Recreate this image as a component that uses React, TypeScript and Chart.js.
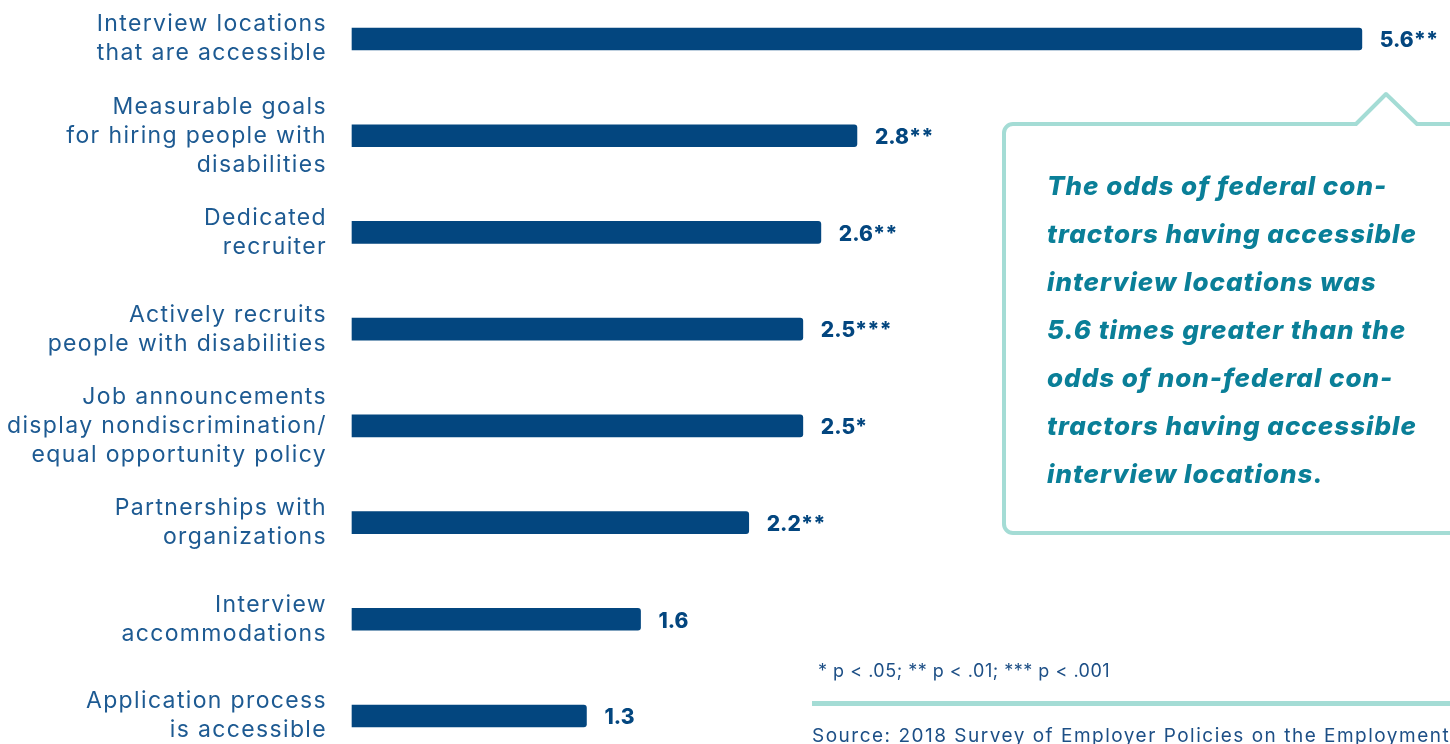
import React, { useEffect, useRef } from "react";
import { Chart, registerables } from "chart.js";

Chart.register(...registerables);

const categories: string[][] = [
  ["Interview locations", "that are accessible"],
  ["Measurable goals", "for hiring people with", "disabilities"],
  ["Dedicated", "recruiter"],
  ["Actively recruits", "people with disabilities"],
  ["Job announcements", "display nondiscrimination/", "equal opportunity policy"],
  ["Partnerships with", "organizations"],
  ["Interview", "accommodations"],
  ["Application process", "is accessible"],
];
const oddsRatios: number[] = [5.6, 2.8, 2.6, 2.5, 2.5, 2.2, 1.6, 1.3];
const valueLabels: string[] = ["5.6**", "2.8**", "2.6**", "2.5***", "2.5*", "2.2**", "1.6", "1.3"];
const calloutLines: string[] = [
  "The odds of federal con-",
  "tractors having accessible",
  "interview locations was",
  "5.6 times greater than the",
  "odds of non-federal con-",
  "tractors having accessible",
  "interview locations.",
];
const footnote = "* p < .05; ** p < .01; *** p < .001";
const sourceText = "Source: 2018 Survey of Employer Policies on the Employment of People with Disabilities";

const FONT = "Inter, 'Open Sans', sans-serif";
const BAR = "#03467f";
const LABEL = "#1d5a92";
const TEAL = "#a4dcd5";
const TEAL_TEXT = "#0a7f98";

const spacingPlugin = {
  id: "spacing",
  beforeDraw(chart: any) {
    (chart.ctx as any).letterSpacing = "1.35px";
  },
};

const overlayPlugin = {
  id: "overlay",
  afterDraw(chart: any) {
    const ctx = chart.ctx as any;
    const meta = chart.getDatasetMeta(0);
    ctx.save();
    // value labels
    ctx.letterSpacing = "0px";
    ctx.fillStyle = BAR;
    ctx.font = `800 21px ${FONT}`;
    ctx.textBaseline = "middle";
    ctx.textAlign = "left";
    meta.data.forEach((el: any, i: number) => {
      ctx.fillText(valueLabels[i], el.x + 18, el.y + 2);
    });

    // callout box
    const L = 1004, T = 124, B = 533, R = 1470, r = 9;
    ctx.strokeStyle = TEAL;
    ctx.lineWidth = 4;
    ctx.lineJoin = "round";
    ctx.beginPath();
    ctx.moveTo(R, B);
    ctx.lineTo(L + r, B);
    ctx.arcTo(L, B, L, B - r, r);
    ctx.lineTo(L, T + r);
    ctx.arcTo(L, T, L + r, T, r);
    ctx.lineTo(1356, T);
    ctx.lineTo(1386, 94);
    ctx.lineTo(1417, T);
    ctx.lineTo(R, T);
    ctx.stroke();

    ctx.fillStyle = TEAL_TEXT;
    ctx.letterSpacing = "1px";
    ctx.font = `italic 800 26px ${FONT}`;
    ctx.textAlign = "left";
    ctx.textBaseline = "middle";
    calloutLines.forEach((line, i) => {
      ctx.fillText(line, 1047, 187 + i * 48);
    });

    // footnote
    ctx.fillStyle = "#1d4f86";
    ctx.letterSpacing = "0.5px";
    ctx.font = `18px ${FONT}`;
    ctx.fillText(footnote, 818, 672);

    ctx.fillStyle = TEAL;
    ctx.fillRect(812, 701, 660, 5);

    ctx.fillStyle = "#1d4f86";
    ctx.letterSpacing = "1.5px";
    ctx.font = `19px ${FONT}`;
    ctx.fillText(sourceText, 812, 736);
    ctx.letterSpacing = "0px";
    ctx.restore();
    ctx.letterSpacing = "0px";
  },
};

export default function App() {
  const ref = useRef<HTMLCanvasElement>(null);
  useEffect(() => {
    if (!ref.current) return;
    const chart = new Chart(ref.current, {
      type: "bar",
      data: {
        labels: categories,
        datasets: [
          {
            data: oddsRatios,
            backgroundColor: BAR,
            borderRadius: 3,
            borderSkipped: "start",
            barThickness: 22,
            clip: false as any,
          },
        ],
      },
      options: {
        indexAxis: "y",
        responsive: false,
        animation: false,
        layout: { padding: { top: 39, bottom: 28, right: 16, left: 0 } },
        plugins: { legend: { display: false }, tooltip: { enabled: false } },
        scales: {
          x: { display: false, min: 0, max: 6 },
          y: {
            offset: false,
            grid: { display: false, drawTicks: false },
            border: { display: false },
            afterFit: (scale: any) => {
              scale.width = 352;
              scale.paddingTop = 0;
              scale.paddingBottom = 0;
            },
            ticks: {
              color: LABEL,
              padding: 25,
              font: { family: FONT, size: 23, lineHeight: 1.26 },
              autoSkip: false,
            },
          },
        },
      },
      plugins: [spacingPlugin, overlayPlugin],
    });
    return () => chart.destroy();
  }, []);
  return (
    <div style={{ position: "absolute", left: 0, top: 0, width: 1450, height: 744, background: "#fff" }}>
      <canvas ref={ref} width={1450} height={744} />
    </div>
  );
}
